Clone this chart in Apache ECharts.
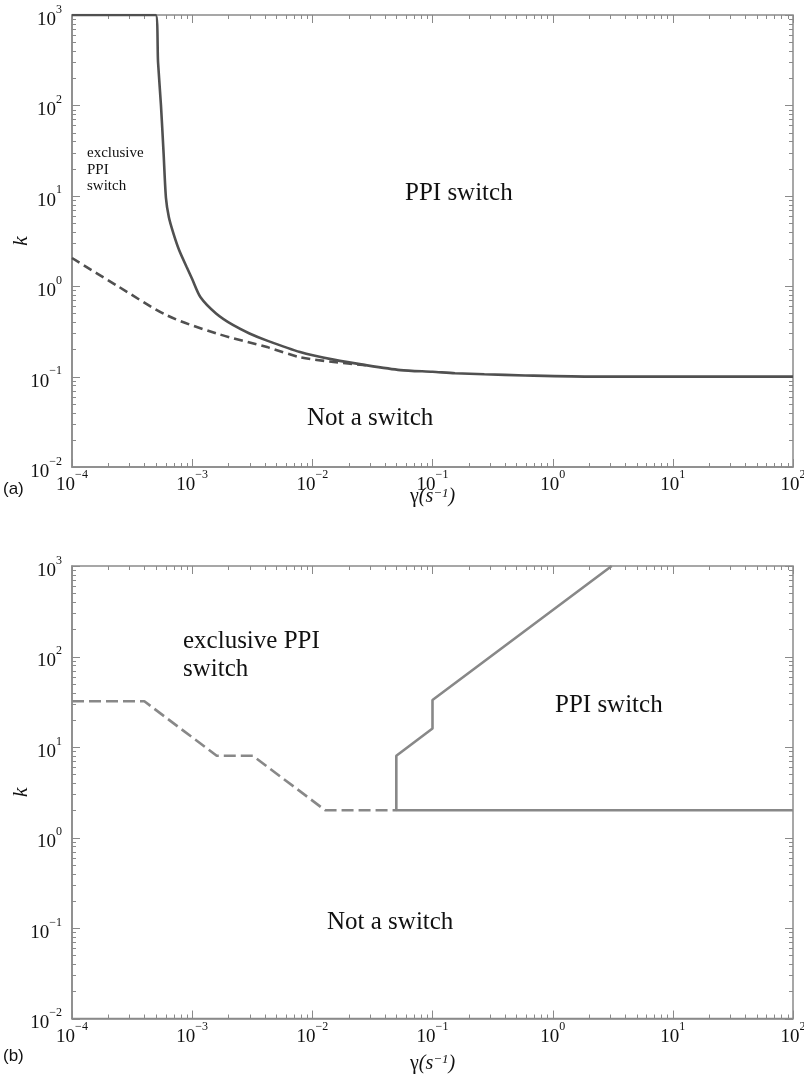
<!DOCTYPE html>
<html><head><meta charset="utf-8">
<script src="https://cdn.jsdelivr.net/npm/echarts@6/dist/echarts.min.js"></script>
<style>html,body{margin:0;padding:0;background:#fff}#c{width:804px;height:1083px}</style>
</head><body><div id="c"></div>
<script>
// ---- data ----
const xMajor = [1e-4, 1e-3, 1e-2, 1e-1, 1, 10, 100];
const yMajor = [1e-2, 1e-1, 1, 10, 100, 1000];

// panel (a)
const aSolidGamma = [1e-4, 4.97e-4, 5.2e-4, 5.5e-4, 5.78e-4, 6.05e-4, 6.4e-4, 7.0e-4, 7.8e-4, 9.0e-4, 1.0e-3, 1.17e-3, 1.58e-3, 2.2e-3, 3.0e-3, 4.2e-3, 7.9e-3, 0.015, 0.0286, 0.054, 0.1, 0.154, 0.27, 0.59, 2.2, 100];
const aSolidK     = [1000, 1000, 300, 100, 30, 9.5, 5.8, 3.8, 2.5, 1.63, 1.2, 0.76, 0.50, 0.37, 0.30, 0.25, 0.187, 0.154, 0.133, 0.118, 0.113, 0.109, 0.106, 0.103, 0.1, 0.1];
const aDashGamma  = [1e-4, 2.35e-4, 6.15e-4, 1.6e-3, 4.2e-3, 7.9e-3, 0.015, 0.0286];
const aDashK      = [2.05, 1.02, 0.477, 0.30, 0.212, 0.164, 0.145, 0.133];

// panel (b)
const bSolidGamma = [100, 0.05, 0.05, 0.1, 0.1, 3.1];
const bSolidK     = [2, 2, 8, 16, 33, 1000];
const bDashGamma  = [1e-4, 4e-4, 1.6e-3, 3.2e-3, 0.0128, 0.05];
const bDashK      = [32, 32, 8, 8, 2, 2];

const zip = (xs, ys) => xs.map((x, i) => [x, ys[i]]);

// tick positions: majors at decades, minors at 2..9 of each decade
function minors(lo, hi) {
  const out = [];
  for (let d = lo; d < hi; d++) for (let m = 2; m <= 9; m++) out.push(m * Math.pow(10, d));
  return out;
}
const xMinor = minors(-4, 2);
const yMinor = minors(-2, 3);
const MAJ = 8, MIN = 4;
// [x, y, length, kind(0 = x tick, 1 = y tick)]
const tickData = []
  .concat(xMajor.map(v => [v, 1, MAJ, 0]))
  .concat(xMinor.map(v => [v, 1, MIN, 0]))
  .concat(yMajor.map(v => [1, v, MAJ, 1]))
  .concat(yMinor.map(v => [1, v, MIN, 1]));

const SERIF = "'Liberation Serif','DejaVu Serif',serif";
const AX = '#8a8a8a';

function expLabel(v) {
  const e = Math.round(Math.log10(v));
  return '{b|10}{e|' + (e < 0 ? '\u2212' + (-e) : e) + '}';
}
const richLab = {
  b: { fontFamily: SERIF, fontSize: 19, color: '#111', padding: [10, 0, 0, 0] },
  e: { fontFamily: SERIF, fontSize: 12, color: '#111', verticalAlign: 'top', padding: [3, 0, 0, 0] }
};

function xAxisFor(g, nameGap) {
  return {
    type: 'log', logBase: 10, min: 1e-4, max: 100, gridIndex: g, position: 'bottom',
    splitLine: { show: false }, minorTick: { show: false },
    axisLine: { show: true, lineStyle: { color: AX, width: 1.5 } },
    axisTick: { show: false },
    axisLabel: { customValues: xMajor, formatter: expLabel, rich: richLab, margin: -1, hideOverlap: false, showMinLabel: true, showMaxLabel: true },
    name: '{g|\u03b3}{i|(s}{s|\u22121}{i|)}', nameLocation: 'middle', nameGap: nameGap, nameMoveOverlap: false,
    nameTextStyle: { verticalAlign: 'top', rich: {
      g: { fontFamily: SERIF, fontSize: 20, color: '#111' },
      i: { fontFamily: SERIF, fontSize: 20, fontStyle: 'italic', color: '#111' },
      s: { fontFamily: SERIF, fontSize: 13, fontStyle: 'italic', color: '#111', verticalAlign: 'top' }
    } }
  };
}
function yAxisFor(g) {
  return {
    type: 'log', logBase: 10, min: 1e-2, max: 1000, gridIndex: g, position: 'left',
    splitLine: { show: false }, minorTick: { show: false },
    axisLine: { show: true, lineStyle: { color: AX, width: 1.5 } },
    axisTick: { show: false },
    axisLabel: { customValues: yMajor, formatter: expLabel, rich: richLab, margin: 10, hideOverlap: false, showMinLabel: true, showMaxLabel: true },
    name: 'k', nameLocation: 'middle', nameGap: 40, nameMoveOverlap: false,
    nameTextStyle: { fontFamily: SERIF, fontSize: 22, fontStyle: 'italic', color: '#111' }
  };
}

function tickRender(params, api) {
  const cs = params.coordSys;
  const len = api.value(2), kind = api.value(3);
  const st = { stroke: AX, lineWidth: 1 };
  const p = api.coord([api.value(0), api.value(1)]);
  if (kind === 0) {
    const x = Math.round(p[0]) + 0.5, yb = cs.y + cs.height, yt = cs.y;
    return { type: 'group', children: [
      { type: 'line', shape: { x1: x, y1: yb, x2: x, y2: yb - len }, style: st },
      { type: 'line', shape: { x1: x, y1: yt, x2: x, y2: yt + len }, style: st }
    ] };
  }
  const y = Math.round(p[1]) + 0.5, xl = cs.x, xr = cs.x + cs.width;
  return { type: 'group', children: [
    { type: 'line', shape: { x1: xl, y1: y, x2: xl + len, y2: y }, style: st },
    { type: 'line', shape: { x1: xr, y1: y, x2: xr - len, y2: y }, style: st }
  ] };
}
function tickSeries(g) {
  return { type: 'custom', xAxisIndex: g, yAxisIndex: g, data: tickData, renderItem: tickRender,
    encode: { x: 0, y: 1 }, silent: true, z: 1 };
}

function txt(left, top, text, size, extra) {
  return { type: 'text', left: left, top: top, style: Object.assign({ text: text, fontFamily: SERIF, fontSize: size, fill: '#111' }, extra || {}) };
}

const gridBase = { show: true, borderColor: AX, borderWidth: 1.5, backgroundColor: 'transparent', outerBoundsMode: 'none', containLabel: false };

const chart = echarts.init(document.getElementById('c'), null, { renderer: 'canvas' });
chart.setOption({
  animation: false,
  backgroundColor: '#fff',
  grid: [
    Object.assign({ left: 72, top: 15, width: 721, height: 452 }, gridBase),
    Object.assign({ left: 72, top: 566, width: 721, height: 452.5 }, gridBase)
  ],
  xAxis: [xAxisFor(0, 20), xAxisFor(1, 35)],
  yAxis: [yAxisFor(0), yAxisFor(1)],
  series: [
    tickSeries(0),
    tickSeries(1),
    { type: 'line', xAxisIndex: 0, yAxisIndex: 0, data: zip(aSolidGamma, aSolidK), showSymbol: false, symbol: 'none',
      smooth: 0.25, lineStyle: { color: '#505050', width: 2.6 }, z: 3 },
    { type: 'line', xAxisIndex: 0, yAxisIndex: 0, data: zip(aDashGamma, aDashK), showSymbol: false, symbol: 'none', smooth: 0.3,
      lineStyle: { color: '#505050', width: 2.6, type: [9, 5] }, z: 2 },
    { type: 'line', xAxisIndex: 1, yAxisIndex: 1, data: zip(bSolidGamma, bSolidK), showSymbol: false, symbol: 'none',
      lineStyle: { color: '#888', width: 2.6 }, z: 3 },
    { type: 'line', xAxisIndex: 1, yAxisIndex: 1, data: zip(bDashGamma, bDashK), showSymbol: false, symbol: 'none',
      lineStyle: { color: '#888', width: 2.6, type: [12, 5] }, z: 2 }
  ],
  graphic: [
    txt(87, 145, 'exclusive\nPPI\nswitch', 15, { lineHeight: 16.5 }),
    txt(405, 181, 'PPI switch', 25),
    txt(307, 406, 'Not a switch', 25),
    txt(183, 627, 'exclusive PPI\nswitch', 25, { lineHeight: 28 }),
    txt(555, 693, 'PPI switch', 25),
    txt(327, 910, 'Not a switch', 25),
    { type: 'text', left: 3, top: 481, style: { text: '(a)', fontFamily: "'Liberation Sans',Arial,sans-serif", fontSize: 17, fill: '#111' } },
    { type: 'text', left: 3, top: 1048, style: { text: '(b)', fontFamily: "'Liberation Sans',Arial,sans-serif", fontSize: 17, fill: '#111' } }
  ]
});
</script>
</body></html>
